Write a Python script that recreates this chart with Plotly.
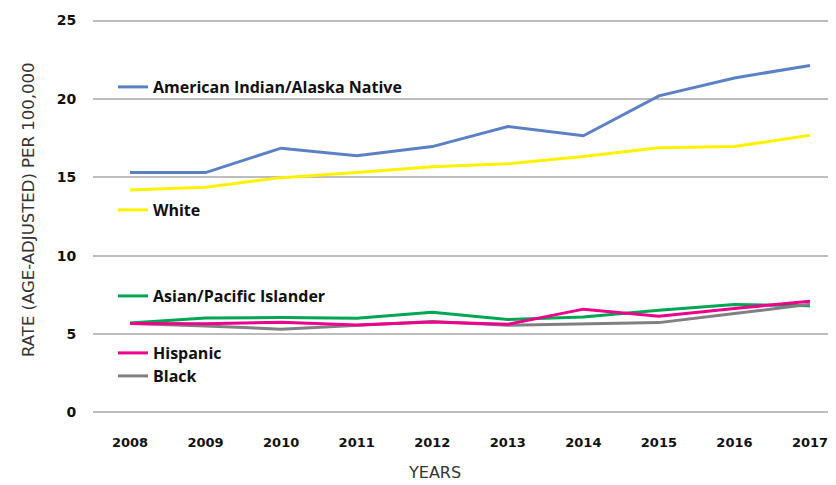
import plotly.graph_objects as go

years = [2008, 2009, 2010, 2011, 2012, 2013, 2014, 2015, 2016, 2017]

aian = [15.3, 15.3, 16.86, 16.37, 16.96, 18.24, 17.65, 20.2, 21.34, 22.14]
white = [14.19, 14.37, 14.98, 15.3, 15.68, 15.86, 16.33, 16.88, 16.96, 17.69]
asian_pi = [5.71, 6.03, 6.05, 6.01, 6.39, 5.93, 6.09, 6.52, 6.89, 6.8]
black = [5.67, 5.52, 5.31, 5.56, 5.8, 5.56, 5.63, 5.73, 6.31, 6.9]
hispanic = [5.67, 5.66, 5.75, 5.58, 5.77, 5.62, 6.59, 6.14, 6.63, 7.1]

y_ticks = [0, 5, 10, 15, 20, 25]

series = [
    ("American Indian/Alaska Native", aian, "#5b80c5", "legend"),
    ("White", white, "#fff200", "legend2"),
    ("Asian/Pacific Islander", asian_pi, "#00a651", "legend3"),
    ("Black", black, "#808083", "legend5"),
    ("Hispanic", hispanic, "#ec008c", "legend4"),
]

fig = go.Figure()
for name, vals, color, leg in series:
    fig.add_trace(go.Scatter(
        x=years, y=vals, name=name, mode="lines",
        line=dict(color=color, width=3),
        legend=leg,
    ))

# the page body has an 8px margin, so the figure is drawn 8px in and down
OFF = 8
W, H = 836 - OFF, 485 - OFF
# plot area in figure pixels
L, R, T, B = 85, W, 11, 406

leg_font = dict(family="Open Sans", size=16, color="#111111", weight="bold")


def px_x(x):
    return (x - OFF - L) / (R - L)


def px_y(y):
    return (B - (y - OFF)) / (B - T)


def leg(y_px):
    # legend boxes placed inside the plot area by page pixel row
    return dict(
        x=px_x(113), xanchor="left",
        y=px_y(y_px), yanchor="middle",
        bgcolor="rgba(0,0,0,0)", font=leg_font,
    )


fig.update_layout(
    width=W, height=H,
    paper_bgcolor="white", plot_bgcolor="white",
    showlegend=True,
    margin=dict(l=L, r=W - R, t=T, b=H - B, autoexpand=False),
    legend=leg(87),
    legend2=leg(210),
    legend3=leg(296),
    legend4=leg(353),
    legend5=leg(376),
    annotations=[
        dict(text="RATE (AGE-ADJUSTED) PER 100,000", textangle=-90,
             xref="paper", yref="paper", x=px_x(28), y=px_y(210),
             xanchor="center", yanchor="middle", showarrow=False,
             font=dict(family="DejaVu Sans", size=16.5, color="#333333")),
        dict(text="YEARS", borderpad=0,
             xref="paper", yref="paper", x=px_x(434), y=px_y(473),
             xanchor="center", yanchor="middle", showarrow=False,
             font=dict(family="DejaVu Sans", size=16, color="#333333")),
    ],
)

fig.update_xaxes(
    range=[2007.51, 2017.344],
    tickvals=years,
    showgrid=False, zeroline=False, showline=False,
    ticks="outside", ticklen=16, tickcolor="rgba(0,0,0,0)",
    tickfont=dict(family="DejaVu Sans", size=13, color="#111111", weight="bold"),
)

fig.update_yaxes(
    range=[-0.1, 25.1],
    tickvals=y_ticks,
    showgrid=True, gridcolor="#bdbdbd", gridwidth=1.5,
    zeroline=False, showline=False,
    ticks="outside", ticklen=13, tickcolor="rgba(0,0,0,0)",
    tickfont=dict(family="DejaVu Sans", size=14, color="#111111", weight="bold"),
)

fig.write_html("out.html")
